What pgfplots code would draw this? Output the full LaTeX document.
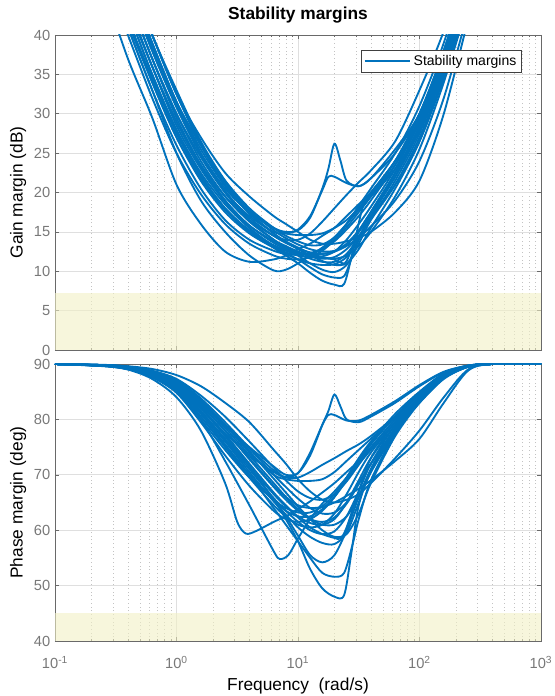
\documentclass[border=0pt]{standalone}
\usepackage{fontspec}
\setmainfont{Liberation Sans}
\usepackage{pgfplots}
\pgfplotsset{compat=1.18}

\definecolor{mblue}{RGB}{0,114,189}
\definecolor{patchc}{RGB}{242,240,197}
\definecolor{gridc}{RGB}{223,223,223}
\definecolor{minorc}{RGB}{195,195,195}
\definecolor{tickc}{RGB}{120,120,120}
\definecolor{framec}{RGB}{105,105,105}

\pgfplotsset{
  every axis/.append style={
    scale only axis, width=364.5pt,
    xmin=0.1, xmax=1000,
    xtick={0.1,1,10,100,1000},
    minor xtick={0.2,0.3,0.4,0.5,0.6,0.7,0.8,0.9,2,3,4,5,6,7,8,9,20,30,40,50,60,70,80,90,200,300,400,500,600,700,800,900},
    xmajorgrids, xminorgrids, ymajorgrids,
    major grid style={draw=gridc, line width=0.5pt},
    minor grid style={draw=minorc, line width=0.5pt, dash pattern=on 0.6pt off 2.2pt},
    tick align=inside, major tick length=3pt, minor tick length=1.8pt,
    tick style={draw=framec, line width=0.4pt},
    axis line style={draw=framec, line width=0.5pt},
    ticklabel style={font=\fontsize{11}{13}\selectfont, text=tickc},
    xticklabel style={yshift=-8pt},
    label style={font=\fontsize{13}{15}\selectfont},
    ylabel style={at={(axis description cs:-0.076,0.5)}, anchor=center},
  },
  legend image code/.code={\draw[#1] (0pt,0pt) -- (34pt,0pt);},
}
\tikzset{
  mcurve/.style={mblue, line width=1.4pt, smooth},
  mpatch/.style={fill=patchc, fill opacity=0.6, draw=none},
}

\begin{document}
\begin{tikzpicture}
\useasboundingbox (-41.25pt,-41.25pt) rectangle (375pt,480.75pt);

% gain margin
\begin{semilogxaxis}[at={(0pt,218.25pt)}, anchor=south west, height=236.25pt,
  ymin=0, ymax=40, ytick={0,5,...,40}, xticklabels={},
  yticklabels={0,5,10,15,20,25,30,35,40},
  ylabel={Gain margin (dB)},
  title={Stability margins},
  every axis title/.style={font=\bfseries\fontsize{13}{15}\selectfont, at={(axis description cs:0.5,1.0476)}, anchor=base},
  legend style={at={(0.961,0.952)}, anchor=north east, draw=black!75, line width=0.5pt,
    font=\fontsize{10.5}{12}\selectfont, inner xsep=2pt, inner ysep=1.5pt},
  legend cell align=left,
]
\addplot[mpatch, forget plot] coordinates {(0.1,7.2)(1000,7.2)} \closedcycle;
\addlegendimage{mblue, line width=1.4pt}
\addlegendentry{Stability margins}
\addplot[mcurve, forget plot] coordinates {(0.2512,46)(0.3981,37)(0.631,29.5)(1,21)(1.585,16)(2.512,12.5)(3.981,11.2)(6.31,11.5)(7.943,12)(10,12.8)(12.59,13.5)(15.85,14.5)(19.95,15.5)(25.12,17)(31.62,18.5)(39.81,20)(63.1,24)(100,29)(158.5,37)(251.2,47)};
\addplot[mcurve, forget plot] coordinates {(0.2512,50)(0.3981,41)(0.631,33)(1,25)(1.585,19)(2.512,15)(3.981,12)(6.31,10.1)(7.943,10.2)(10,11)(12.59,12)(15.85,13)(19.95,14.3)(25.12,16)(31.62,17.8)(39.81,19.5)(63.1,23.5)(100,29)(158.5,37)(251.2,46)};
\addplot[mcurve, forget plot] coordinates {(0.2512,53)(0.3981,45)(0.631,37)(1,29.5)(1.585,23.5)(2.512,19)(3.981,15.5)(6.31,13)(7.943,12)(10,11)(12.59,9.8)(15.85,8.8)(19.95,8.3)(23.99,8.4)(28.18,12.5)(33.88,18)(39.81,19.8)(63.1,24)(100,29)(158.5,37)(251.2,46)};
\addplot[mcurve, forget plot] coordinates {(0.2512,51)(0.3981,43)(0.631,35)(1,28)(1.585,22.5)(2.512,18.5)(3.981,15.5)(6.31,13.2)(7.943,12.3)(10,11.5)(12.59,10.5)(15.85,9.6)(19.95,9.2)(23.99,9.4)(28.18,12)(31.62,14)(39.81,17.5)(63.1,22.5)(100,28.5)(158.5,36.5)(251.2,46)};
\addplot[mcurve, forget plot] coordinates {(0.2512,55)(0.3981,47)(0.631,39)(1,31.5)(1.585,25)(2.512,20)(3.981,16.5)(6.31,14)(7.943,13)(10,12)(12.59,11)(15.85,10.2)(19.95,9.9)(25.12,10.8)(31.62,13.5)(39.81,16.5)(63.1,21)(100,27)(158.5,35)(251.2,45)};
\addplot[mcurve, forget plot] coordinates {(0.2512,54)(0.3981,46)(0.631,38)(1,31)(1.585,25)(2.512,20.5)(3.981,17.5)(6.31,15.5)(7.943,15)(10,15.2)(12.59,16.8)(15.85,20.5)(17.78,23)(19.95,26.2)(22.39,24)(25.12,21.5)(31.62,20.8)(39.81,21.8)(63.1,25)(100,30)(158.5,38)(251.2,48)};
\addplot[mcurve, forget plot] coordinates {(0.2512,53)(0.3981,45)(0.631,37)(1,30)(1.585,24.5)(2.512,20)(3.981,17)(6.31,15)(7.943,14.8)(10,15.3)(12.59,17)(15.85,20.3)(17.78,22)(19.95,22)(25.12,21.2)(31.62,20.8)(39.81,21.8)(63.1,25.5)(100,30)(158.5,38)(251.2,48)};
\addplot[mcurve, forget plot] coordinates {(0.2512,56)(0.3981,48)(0.631,40)(1,32.5)(1.585,26)(2.512,21)(3.981,17.5)(6.31,15.5)(7.943,14.8)(10,14.6)(12.59,14.6)(15.85,14.8)(19.95,15.5)(25.12,16.5)(31.62,18)(39.81,19.5)(63.1,23)(100,28)(158.5,36)(251.2,46)};
\addplot[mcurve, forget plot] coordinates {(0.2512,54)(0.3981,47)(0.631,40)(1,32.5)(1.585,27)(2.512,22.5)(3.981,19.5)(6.31,17)(7.943,16)(10,15)(12.59,14)(15.85,13.5)(19.95,13.5)(25.12,13.8)(31.62,14.3)(39.81,15)(63.1,17.5)(100,21.5)(158.5,30)(251.2,42)};
\addplot[mcurve, forget plot] coordinates {(0.2512,52)(0.3981,44)(0.631,36)(1,29)(1.585,23.5)(2.512,19.5)(3.981,16.5)(6.31,14.5)(7.943,14)(10,14)(12.59,14.8)(15.85,16.3)(19.95,18)(25.12,19.7)(31.62,21.3)(39.81,22.8)(63.1,26.5)(100,33)(158.5,40.5)(251.2,50)};
\addplot[mcurve, forget plot] coordinates {(0.2512,50)(0.3981,42)(0.631,34.5)(1,27.5)(1.585,22)(2.512,18)(3.981,15.2)(6.31,13.3)(7.943,12.7)(10,12.3)(12.59,12.1)(15.85,12.2)(19.95,12.5)(25.12,13.2)(31.62,14.3)(39.81,15.7)(63.1,19)(100,24)(158.5,32)(251.2,43)};
\addplot[mcurve, forget plot] coordinates {(0.2512,50)(0.3981,42)(0.631,34)(1,27)(1.585,21.5)(2.512,17.5)(3.981,14.8)(6.31,13)(7.943,12.4)(10,12)(12.59,11.8)(15.85,11.9)(19.95,12.5)(25.12,14)(31.62,16)(39.81,18.2)(63.1,23)(100,29)(158.5,37)(251.2,47)};
\addplot[mcurve, forget plot] coordinates {(0.2512,52)(0.3981,44)(0.631,36)(1,28.5)(1.585,23)(2.512,18.8)(3.981,15.8)(6.31,13.8)(7.943,13)(10,12.4)(12.59,11.9)(15.85,11.6)(19.95,11.8)(25.12,12.8)(31.62,14.5)(39.81,16.7)(63.1,21.5)(100,27.5)(158.5,35.5)(251.2,45.5)};
\addplot[mcurve, forget plot] coordinates {(0.2512,49)(0.3981,41)(0.631,33)(1,26)(1.585,20.5)(2.512,16.5)(3.981,14)(6.31,12.6)(7.943,12.2)(10,12.1)(12.59,12.3)(15.85,12.9)(19.95,14)(25.12,15.6)(31.62,17.5)(39.81,19.5)(63.1,24)(100,30)(158.5,38)(251.2,48)};
\addplot[mcurve, forget plot] coordinates {(0.2512,55)(0.3981,47)(0.631,39)(1,31.5)(1.585,25.5)(2.512,20.8)(3.981,17.3)(6.31,14.8)(7.943,13.8)(10,13)(12.59,12.3)(15.85,11.8)(19.95,11.6)(25.12,12)(31.62,13.2)(39.81,15)(63.1,19.5)(100,25.5)(158.5,34)(251.2,44)};
\addplot[mcurve, forget plot] coordinates {(0.2512,53)(0.3981,45)(0.631,37)(1,30)(1.585,24)(2.512,19.5)(3.981,16.3)(6.31,14)(7.943,13.2)(10,12.5)(12.59,12)(15.85,11.7)(19.95,11.5)(22.39,11.1)(25.12,11.3)(31.62,15)(39.81,17.5)(63.1,22)(100,28)(158.5,36)(251.2,46)};
\addplot[mcurve, forget plot] coordinates {(0.2512,51)(0.3981,43)(0.631,35)(1,27.8)(1.585,22.2)(2.512,18)(3.981,15)(6.31,13)(7.943,12.2)(10,11.5)(12.59,11)(15.85,10.8)(19.95,10.9)(25.12,11.8)(31.62,14)(39.81,17)(63.1,22.5)(100,28.5)(158.5,36.5)(251.2,46.5)};
\addplot[mcurve, forget plot] coordinates {(0.2512,56)(0.3981,48)(0.631,40)(1,33)(1.585,26.5)(2.512,21.5)(3.981,17.8)(6.31,15.2)(7.943,14.2)(10,13.4)(12.59,12.8)(15.85,12.5)(19.95,12.6)(25.12,13.4)(31.62,15)(39.81,17)(63.1,21)(100,26.5)(158.5,34.5)(251.2,44.5)};
\addplot[mcurve, forget plot] coordinates {(0.2512,48)(0.3981,40)(0.631,32)(1,25)(1.585,19.8)(2.512,16)(3.981,13.5)(6.31,12)(7.943,11.6)(10,11.5)(12.59,11.8)(15.85,12.6)(19.95,14)(25.12,16)(31.62,18.3)(39.81,20.5)(63.1,25)(100,31)(158.5,39)(251.2,49)};
\addplot[mcurve, forget plot] coordinates {(0.2512,54)(0.3981,46)(0.631,38)(1,30.8)(1.585,24.8)(2.512,20.2)(3.981,16.8)(6.31,14.5)(7.943,13.6)(10,12.9)(12.59,12.4)(15.85,12.2)(19.95,12.5)(25.12,13.5)(31.62,15.2)(39.81,17.5)(63.1,22.5)(100,28)(158.5,35.5)(251.2,45)};
\addplot[mcurve, forget plot] coordinates {(0.2512,51)(0.3981,43.5)(0.631,36)(1,29)(1.585,23.3)(2.512,19)(3.981,15.8)(6.31,13.6)(7.943,12.8)(10,12.2)(12.59,11.6)(15.85,11.2)(19.95,11.2)(25.12,12.2)(31.62,14.3)(39.81,17)(63.1,22)(100,28)(158.5,36)(251.2,46)};
\addplot[mcurve, forget plot] coordinates {(0.2512,53)(0.3981,46)(0.631,38.5)(1,31.5)(1.585,26)(2.512,21.5)(3.981,18)(6.31,15.5)(7.943,14.5)(10,13.8)(12.59,13.3)(15.85,13.4)(19.95,14.3)(25.12,16)(31.62,18)(39.81,20)(63.1,24)(100,29.5)(158.5,37.5)(251.2,47)};
\addplot[mcurve, forget plot] coordinates {(0.2512,49)(0.3981,41.5)(0.631,34)(1,27)(1.585,21.8)(2.512,17.8)(3.981,15)(6.31,13.2)(7.943,12.6)(10,12.2)(12.59,12.2)(15.85,12.8)(19.95,13.8)(25.12,15.3)(31.62,17)(39.81,19)(63.1,23.5)(100,29.5)(158.5,37.5)(251.2,47.5)};
\addplot[mcurve, forget plot] coordinates {(0.2512,55)(0.3981,47.5)(0.631,40)(1,32.5)(1.585,26.3)(2.512,21.3)(3.981,17.5)(6.31,14.8)(7.943,13.7)(10,12.8)(12.59,12)(15.85,11.3)(19.95,10.8)(25.12,11)(31.62,12.8)(39.81,15.5)(63.1,20.5)(100,26.5)(158.5,35)(251.2,45)};
\end{semilogxaxis}

% phase margin
\begin{semilogxaxis}[at={(0pt,0pt)}, anchor=south west, height=207.75pt,
  ymin=40, ymax=90, ytick={40,50,...,90},
  yticklabels={40,50,60,70,80,90},
  xticklabels={10\textsuperscript{-1},10\textsuperscript{0},10\textsuperscript{1},10\textsuperscript{2},10\textsuperscript{3}},
  xlabel={Frequency\ \ (rad/s)},
  xlabel style={at={(axis description cs:0.5,-0.1625)}, anchor=center},
  ylabel={Phase margin (deg)},
]
\addplot[mpatch, forget plot] coordinates {(0.1,45)(1000,45)} \closedcycle;
\addplot[mcurve, forget plot] coordinates {(0.1,90)(0.2512,89.6)(0.3981,89)(0.631,87.3)(1,84)(1.585,78)(2.512,68.5)(3.162,61.5)(3.715,59.4)(4.467,59.8)(6.31,61.5)(7.943,62.5)(10,63.8)(12.59,65.2)(15.85,66.8)(19.95,68.5)(25.12,70.5)(31.62,72.5)(39.81,75)(63.1,80)(100,84.5)(158.5,88)(251.2,89.6)(398.1,90)(1000,90)};
\addplot[mcurve, forget plot] coordinates {(0.1,90)(0.2512,89.65)(0.3981,89.1)(0.631,87.7)(1,85)(1.585,80)(2.512,72.5)(3.981,64.5)(6.31,56.2)(7.079,54.8)(8.318,55.5)(10,58.5)(12.59,62)(15.85,64.8)(19.95,67)(25.12,69.5)(31.62,72)(39.81,74.5)(63.1,79.5)(100,84)(158.5,87.5)(251.2,89.5)(398.1,90)(1000,90)};
\addplot[mcurve, forget plot] coordinates {(0.1,90)(0.2512,89.7)(0.3981,89.3)(0.631,88.2)(1,86)(1.585,82)(2.512,77)(3.981,71.5)(6.31,65.5)(7.943,62)(10,58)(12.59,53)(15.85,49.5)(19.95,48)(23.99,48.3)(27.54,56)(31.62,64.5)(39.81,70.5)(63.1,78)(100,84)(158.5,87.8)(251.2,89.6)(398.1,90)(1000,90)};
\addplot[mcurve, forget plot] coordinates {(0.1,90)(0.2512,89.7)(0.3981,89.2)(0.631,88)(1,85.5)(1.585,81)(2.512,75.5)(3.981,70)(6.31,64)(7.943,61)(10,58)(12.59,55)(15.85,52.3)(19.95,51.6)(23.99,52.3)(28.18,57.5)(31.62,62)(39.81,69)(63.1,77.5)(100,83.5)(158.5,87.5)(251.2,89.5)(398.1,90)(1000,90)};
\addplot[mcurve, forget plot] coordinates {(0.1,90)(0.2512,89.7)(0.3981,89.3)(0.631,88.2)(1,86)(1.585,82)(2.512,77)(3.981,71.5)(6.31,65.5)(7.943,62.5)(10,59)(12.59,55.5)(15.85,54.2)(19.95,55.5)(25.12,60)(31.62,66)(39.81,71)(63.1,78.5)(100,84)(158.5,87.8)(251.2,89.6)(398.1,90)(1000,90)};
\addplot[mcurve, forget plot] coordinates {(0.1,90)(0.2512,89.75)(0.3981,89.4)(0.631,88.4)(1,86.5)(1.585,83)(2.512,79)(3.981,75)(6.31,71.5)(7.943,70)(10,70.3)(12.59,73.5)(15.85,79)(17.78,81.5)(19.95,84.5)(22.39,82.3)(25.12,80)(31.62,79.5)(39.81,80.5)(63.1,83)(100,86)(158.5,88.5)(251.2,89.7)(398.1,90)(1000,90)};
\addplot[mcurve, forget plot] coordinates {(0.1,90)(0.2512,89.75)(0.3981,89.3)(0.631,88.3)(1,86.3)(1.585,82.8)(2.512,78.8)(3.981,74.8)(6.31,70.8)(7.943,69.6)(10,70.3)(12.59,74)(15.85,79)(17.78,80.8)(19.95,80.8)(25.12,79.8)(31.62,79.8)(39.81,80.8)(63.1,83.3)(100,86.2)(158.5,88.6)(251.2,89.7)(398.1,90)(1000,90)};
\addplot[mcurve, forget plot] coordinates {(0.1,90)(0.2512,89.8)(0.3981,89.5)(0.631,88.6)(1,87)(1.585,83.5)(2.512,79)(3.981,74)(6.31,70)(7.943,69.2)(10,68.9)(12.59,68.9)(15.85,69.2)(19.95,70.5)(25.12,72.5)(31.62,74.5)(39.81,76.5)(63.1,80.5)(100,84.5)(158.5,88)(251.2,89.6)(398.1,90)(1000,90)};
\addplot[mcurve, forget plot] coordinates {(0.1,90)(0.2512,89.85)(0.3981,89.6)(0.631,89.1)(1,88)(1.585,86)(2.512,83)(3.981,79.5)(6.31,74.5)(7.943,72)(10,69.2)(12.59,67)(15.85,65.5)(19.95,65)(25.12,65.5)(31.62,66.5)(39.81,68.5)(63.1,73)(100,78)(158.5,84)(251.2,89)(398.1,90)(1000,90)};
\addplot[mcurve, forget plot] coordinates {(0.1,90)(0.2512,89.7)(0.3981,89.3)(0.631,88.2)(1,86)(1.585,82)(2.512,77.5)(3.981,73.5)(6.31,70.5)(7.943,69.5)(10,69.5)(12.59,70.5)(15.85,71.8)(19.95,73)(25.12,74.3)(31.62,75.5)(39.81,77)(63.1,80.5)(100,84.5)(158.5,88)(251.2,89.6)(398.1,90)(1000,90)};
\addplot[mcurve, forget plot] coordinates {(0.1,90)(0.2512,89.75)(0.3981,89.4)(0.631,88.4)(1,86.5)(1.585,82.5)(2.512,78)(3.981,73)(6.31,68)(7.943,66)(10,64.5)(12.59,64)(15.85,64.2)(19.95,65)(25.12,66.2)(31.62,67.5)(39.81,69)(63.1,72.5)(100,76.5)(158.5,83)(251.2,88.8)(398.1,90)(1000,90)};
\addplot[mcurve, forget plot] coordinates {(0.1,90)(0.2512,89.7)(0.3981,89.2)(0.631,88)(1,85.5)(1.585,80.5)(2.512,75)(3.981,69.5)(6.31,64.5)(7.943,62.5)(10,61)(12.59,60.5)(15.85,61)(19.95,63)(25.12,66.5)(31.62,70.5)(39.81,74)(63.1,79.5)(100,84)(158.5,87.8)(251.2,89.6)(398.1,90)(1000,90)};
\addplot[mcurve, forget plot] coordinates {(0.1,90)(0.2512,89.7)(0.3981,89.3)(0.631,88.2)(1,86)(1.585,81.5)(2.512,76.5)(3.981,71.5)(6.31,66.5)(7.943,64.3)(10,62.5)(12.59,61.3)(15.85,61)(19.95,62)(25.12,65)(31.62,69)(39.81,73)(63.1,79)(100,83.8)(158.5,87.7)(251.2,89.6)(398.1,90)(1000,90)};
\addplot[mcurve, forget plot] coordinates {(0.1,90)(0.2512,89.65)(0.3981,89.1)(0.631,87.7)(1,85)(1.585,80)(2.512,74.5)(3.981,69.5)(6.31,65.5)(7.943,64)(10,63.2)(12.59,63.2)(15.85,64.3)(19.95,66.5)(25.12,69.5)(31.62,72.8)(39.81,75.8)(63.1,80.5)(100,84.8)(158.5,88.2)(251.2,89.7)(398.1,90)(1000,90)};
\addplot[mcurve, forget plot] coordinates {(0.1,90)(0.2512,89.8)(0.3981,89.4)(0.631,88.6)(1,86.8)(1.585,83)(2.512,78.5)(3.981,73.5)(6.31,68.5)(7.943,66)(10,63.8)(12.59,62)(15.85,61)(19.95,61)(25.12,62.5)(31.62,66)(39.81,70.5)(63.1,77.5)(100,83.2)(158.5,87.5)(251.2,89.5)(398.1,90)(1000,90)};
\addplot[mcurve, forget plot] coordinates {(0.1,90)(0.2512,89.75)(0.3981,89.3)(0.631,88.3)(1,86.3)(1.585,82.2)(2.512,77.3)(3.981,72)(6.31,66.8)(7.943,64.5)(10,62.3)(12.59,60.5)(15.85,59.3)(19.95,58.6)(22.39,58.5)(25.12,60.5)(31.62,67)(39.81,73)(63.1,79.5)(100,84)(158.5,87.8)(251.2,89.6)(398.1,90)(1000,90)};
\addplot[mcurve, forget plot] coordinates {(0.1,90)(0.2512,89.7)(0.3981,89.2)(0.631,88.1)(1,85.7)(1.585,81.2)(2.512,76)(3.981,70.5)(6.31,65.2)(7.943,62.8)(10,60.5)(12.59,58.8)(15.85,57.7)(19.95,57.5)(25.12,59.5)(31.62,65)(39.81,71)(63.1,78.5)(100,83.6)(158.5,87.6)(251.2,89.6)(398.1,90)(1000,90)};
\addplot[mcurve, forget plot] coordinates {(0.1,90)(0.2512,89.8)(0.3981,89.5)(0.631,88.7)(1,87.2)(1.585,83.8)(2.512,79.5)(3.981,74.8)(6.31,70)(7.943,67.8)(10,65.7)(12.59,64)(15.85,63)(19.95,63.2)(25.12,65)(31.62,68.5)(39.81,72)(63.1,78)(100,83)(158.5,87.3)(251.2,89.5)(398.1,90)(1000,90)};
\addplot[mcurve, forget plot] coordinates {(0.1,90)(0.2512,89.65)(0.3981,89.05)(0.631,87.6)(1,84.8)(1.585,79.5)(2.512,73.5)(3.981,68)(6.31,63.5)(7.943,62)(10,61.5)(12.59,62)(15.85,63.5)(19.95,66)(25.12,69.5)(31.62,73)(39.81,76)(63.1,81)(100,85)(158.5,88.3)(251.2,89.7)(398.1,90)(1000,90)};
\addplot[mcurve, forget plot] coordinates {(0.1,90)(0.2512,89.75)(0.3981,89.4)(0.631,88.4)(1,86.5)(1.585,82.6)(2.512,78)(3.981,72.8)(6.31,67.8)(7.943,65.5)(10,63.5)(12.59,62)(15.85,61.5)(19.95,62.3)(25.12,64.8)(31.62,68.3)(39.81,72)(63.1,78.3)(100,83.4)(158.5,87.6)(251.2,89.6)(398.1,90)(1000,90)};
\addplot[mcurve, forget plot] coordinates {(0.1,90)(0.2512,89.7)(0.3981,89.25)(0.631,88.1)(1,85.8)(1.585,81.5)(2.512,76.3)(3.981,71)(6.31,65.8)(7.943,63.5)(10,61.5)(12.59,60)(15.85,59.3)(19.95,59.8)(25.12,62.5)(31.62,67)(39.81,72)(63.1,79)(100,83.8)(158.5,87.7)(251.2,89.6)(398.1,90)(1000,90)};
\addplot[mcurve, forget plot] coordinates {(0.1,90)(0.2512,89.8)(0.3981,89.5)(0.631,88.8)(1,87.3)(1.585,84.3)(2.512,80.5)(3.981,76)(6.31,71.3)(7.943,69)(10,67)(12.59,65.8)(15.85,65.5)(19.95,66.5)(25.12,68.8)(31.62,71.8)(39.81,74.8)(63.1,80)(100,84.5)(158.5,88)(251.2,89.6)(398.1,90)(1000,90)};
\addplot[mcurve, forget plot] coordinates {(0.1,90)(0.2512,89.7)(0.3981,89.15)(0.631,87.9)(1,85.3)(1.585,80.5)(2.512,75.2)(3.981,70)(6.31,65.3)(7.943,63.5)(10,62.5)(12.59,62.5)(15.85,63.8)(19.95,66)(25.12,69)(31.62,72.3)(39.81,75.5)(63.1,80.5)(100,84.8)(158.5,88.2)(251.2,89.7)(398.1,90)(1000,90)};
\addplot[mcurve, forget plot] coordinates {(0.1,90)(0.2512,89.8)(0.3981,89.45)(0.631,88.6)(1,86.9)(1.585,83.3)(2.512,79)(3.981,74.3)(6.31,69.3)(7.943,66.8)(10,64.3)(12.59,62)(15.85,60)(19.95,58.8)(25.12,59.3)(31.62,63)(39.81,68.5)(63.1,77)(100,83)(158.5,87.4)(251.2,89.5)(398.1,90)(1000,90)};
\end{semilogxaxis}
\end{tikzpicture}
\end{document}
